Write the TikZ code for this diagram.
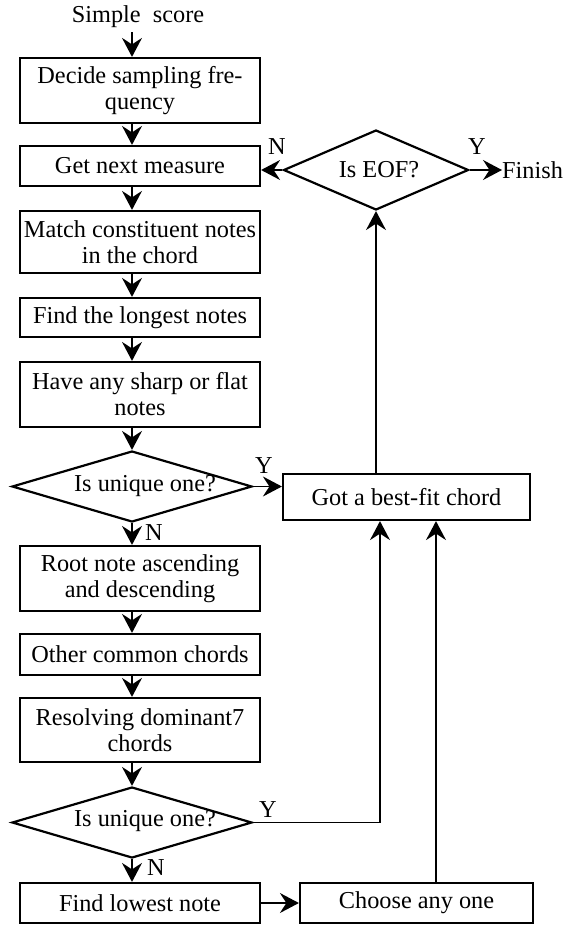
\documentclass[tikz,border=0pt]{standalone}
\usepackage{fontspec}
\setmainfont{Liberation Serif}
\usetikzlibrary{arrows.meta,shapes.geometric}
\begin{document}
\begin{tikzpicture}[x=1bp,y=-1bp,
  txt/.style={font=\fontsize{24.3bp}{26bp}\selectfont, inner sep=0pt},
  box/.style={txt, draw, line width=2.2bp, minimum width=240bp, align=center},
  dec/.style={draw, line width=2.2bp, shape=diamond, inner sep=0pt, minimum width=240bp, minimum height=71bp},
  arr/.style={line width=1.4bp, -{Stealth[length=19bp,width=20bp,inset=6.5bp]}},
  ln/.style={line width=1.4bp}]
\useasboundingbox (0,0) rectangle (569,925);
\coordinate (ax) at (132,0);
\coordinate (c1) at (380,0);
\coordinate (c2) at (436,0);
\node[txt] (start) at (138,17) {Simple\ \ score};
\node[box, minimum height=65bp] (b1) at (140,90.5) {Decide sampling fre-\\quency};
\node[box, minimum height=40bp] (b2) at (140,166) {Get next measure};
\node[box, minimum height=62bp] (b3) at (140,242) {Match constituent notes\\in the chord};
\node[box, minimum height=39bp] (b4) at (140,317.5) {Find the longest notes};
\node[box, minimum height=65bp] (b5) at (140,394.5) {Have any sharp or flat\\notes};
\node[dec] (d1) at (132,486.5) {};
\node[txt] (d1t) at (145,486) {Is unique one?};
\node[box, minimum height=65bp] (b6) at (140,578.5) {Root note ascending\\and descending};
\node[box, minimum height=41bp] (b7) at (140,654.5) {Other common chords};
\node[box, minimum height=64bp] (b8) at (140,730) {Resolving dominant7\\chords};
\node[dec] (d2) at (132,822.5) {};
\node[txt] (d2t) at (145,821) {Is unique one?};
\node[box, minimum height=40bp] (b9) at (140,903) {Find lowest note};
\node[box, minimum height=40bp, minimum width=233bp] (b10) at (416.5,903) {Choose any one};
\node[box, minimum height=46bp, minimum width=247bp] (bf) at (406.5,497) {Got a best-fit chord};
\node[dec, minimum width=185bp, minimum height=80bp] (eof) at (376,170) {};
\node[txt] (eoft) at (379,170) {Is EOF?};
\node[txt, anchor=west] (fin) at (502,170) {Finish};
% labels
\node[txt] (n1) at (277,147) {N};
\node[txt] (y1) at (477,147) {Y};
\node[txt] (y2) at (264,466) {Y};
\node[txt] (n2) at (154,533) {N};
\node[txt] (y3) at (268,810) {Y};
\node[txt] (n3) at (156,868) {N};
% connectors
\draw[arr] ([yshift=-4pt]start.south -| ax) -- (b1.north -| ax);
\draw[arr] (b1.south -| ax) -- (b2.north -| ax);
\draw[arr] (b2.south -| ax) -- (b3.north -| ax);
\draw[arr] (b3.south -| ax) -- (b4.north -| ax);
\draw[arr] (b4.south -| ax) -- (b5.north -| ax);
\draw[arr] (b5.south -| ax) -- (d1.north);
\draw[arr] (d1.south) -- (b6.north -| ax);
\draw[arr] (b6.south -| ax) -- (b7.north -| ax);
\draw[arr] (b7.south -| ax) -- (b8.north -| ax);
\draw[arr] (b8.south -| ax) -- (d2.north);
\draw[arr] (d2.south) -- (b9.north -| ax);
\draw[arr] (d1.east) -- (d1.east -| bf.west);
\draw[arr] (bf.north -| eof.south) -- (eof.south);
\draw[arr] (eof.west) -- (eof.west -| b2.east);
\draw[arr] (eof.east) -- (fin.west);
\draw[arr] (d2.east) -| (c1 |- bf.south);
\draw[arr] (b9.east) -- (b10.west);
\draw[arr] (b10.north -| c2) -- (bf.south -| c2);
\end{tikzpicture}
\end{document}
